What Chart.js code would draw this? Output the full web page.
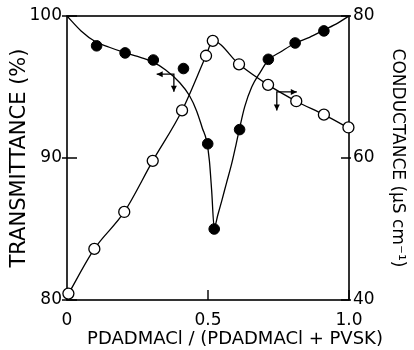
<!DOCTYPE html>
<html>
<head>
<meta charset="utf-8">
<script src="https://cdn.jsdelivr.net/npm/chart.js@4/dist/chart.umd.min.js"></script>
<style>
  html, body { margin: 0; padding: 0; background: #fff; }
  #wrap { width: 414px; height: 350px; }
</style>
</head>
<body>
<div id="wrap"><canvas id="chart" width="414" height="350"></canvas></div>
<script>
// measured points: transmittance (filled) and conductance (open)
const transX = [0.105, 0.206, 0.306, 0.413, 0.499, 0.522, 0.612, 0.714, 0.809, 0.911];
const transY = [97.9, 97.4, 96.9, 96.3, 91.0, 85.0, 92.0, 96.95, 98.1, 98.95];
const condX = [0.005, 0.097, 0.203, 0.304, 0.408, 0.493, 0.517, 0.61, 0.713, 0.813, 0.911, 0.998];
const condY = [40.9, 47.2, 52.4, 59.6, 66.7, 74.4, 76.5, 73.2, 70.3, 68.0, 66.1, 64.3];

// hand drawn fit curves
const transCurveX = [0, 0.05, 0.1, 0.15, 0.2, 0.25, 0.3, 0.35, 0.4, 0.434, 0.46, 0.48, 0.495, 0.505, 0.513, 0.522,
  0.535, 0.549, 0.565, 0.584, 0.6, 0.611, 0.63, 0.655, 0.684, 0.714, 0.76, 0.81, 0.86, 0.91, 0.96, 1.0];
const transCurveY = [100, 98.95, 98.2, 97.8, 97.45, 97.15, 96.8, 96.2, 95.3, 94.4, 93.3, 92.1, 91.2, 89.8, 87.7, 85.1,
  86.0, 87.0, 88.2, 89.6, 91.0, 92.0, 93.6, 95.0, 96.0, 96.9, 97.5, 98.1, 98.5, 99.0, 99.5, 100];
const condCurveX = [0, 0.097, 0.203, 0.304, 0.408, 0.493, 0.517, 0.61, 0.713, 0.813, 0.911, 1.0];
const condCurveY = [40.5, 47.2, 52.4, 59.6, 66.7, 74.4, 76.5, 73.2, 70.3, 68.0, 66.1, 64.2];

// ticks
const xTicks = [0, 0.5, 1.0];
const xTickLabels = ['0', '0.5', '1.0'];
const leftTicks = [80, 90, 100];
const rightTicks = [40, 60, 80];

const xTitle = 'PDADMACl / (PDADMACl + PVSK)';
const leftTitle = 'TRANSMITTANCE (%)';
const rightTitle = 'CONDUCTANCE (\u03bcS cm\u207b\u00b9)';

const toPts = (xs, ys) => xs.map((x, i) => ({ x: x, y: ys[i] }));

// arrows showing which axis a curve belongs to: [x, y] in data units
const arrows = [
  { axis: 'y', x0: 0.379, y0: 95.9, x1: 0.318, y1: 94.66 },
  { axis: 'y2', x0: 0.744, y0: 69.3, x1: 0.815, y1: 66.7 }
];

function arrowHead(ctx, x, y, dx, dy) {
  const len = 6, w = 3;
  ctx.beginPath();
  ctx.moveTo(x, y);
  ctx.lineTo(x - dx * len - dy * w, y - dy * len + dx * w);
  ctx.lineTo(x - dx * len + dy * w, y - dy * len - dx * w);
  ctx.closePath();
  ctx.fill();
}

const framePlugin = {
  id: 'frame',
  beforeDatasetsDraw(chart) {
    const { ctx, chartArea: a, scales } = chart;
    ctx.save();
    ctx.strokeStyle = '#000';
    ctx.lineWidth = 1.6;
    ctx.strokeRect(a.left, a.top, a.right - a.left, a.bottom - a.top);
    ctx.lineWidth = 1.4;
    ctx.beginPath();
    // inward tick marks
    scales.x.ticks.forEach(t => {
      const px = scales.x.getPixelForValue(t.value);
      ctx.moveTo(px, a.bottom);
      ctx.lineTo(px, a.bottom - 10);
    });
    scales.y.ticks.forEach(t => {
      const py = scales.y.getPixelForValue(t.value);
      ctx.moveTo(a.left - 5, py);
      ctx.lineTo(a.left + 10, py);
    });
    scales.y2.ticks.forEach(t => {
      const py = scales.y2.getPixelForValue(t.value);
      ctx.moveTo(a.right + 2, py);
      ctx.lineTo(a.right - 8, py);
    });
    ctx.stroke();
    ctx.restore();
  },
  afterDatasetsDraw(chart) {
    const { ctx, scales } = chart;
    ctx.save();
    ctx.strokeStyle = '#000';
    ctx.fillStyle = '#000';
    ctx.lineWidth = 1.3;
    arrows.forEach(ar => {
      const ys = scales[ar.axis];
      const x0 = scales.x.getPixelForValue(ar.x0);
      const y0 = ys.getPixelForValue(ar.y0);
      const x1 = scales.x.getPixelForValue(ar.x1);
      const y1 = ys.getPixelForValue(ar.y1);
      ctx.beginPath();
      ctx.moveTo(x1, y0);
      ctx.lineTo(x0, y0);
      ctx.lineTo(x0, y1);
      ctx.stroke();
      arrowHead(ctx, x1, y0, Math.sign(x1 - x0), 0);
      arrowHead(ctx, x0, y1, 0, 1);
    });
    // x axis title, sits right of the plot centre in the figure
    ctx.font = '18px "DejaVu Sans"';
    ctx.textAlign = 'center';
    ctx.textBaseline = 'alphabetic';
    ctx.fillText(xTitle, 235, 344);
    ctx.restore();
  }
};

const tickFont = { family: 'DejaVu Sans', size: 17 };

new Chart(document.getElementById('chart'), {
  type: 'scatter',
  data: {
    datasets: [
      {
        label: 'Transmittance',
        data: toPts(transX, transY),
        yAxisID: 'y',
        pointRadius: 5.3,
        pointBackgroundColor: '#000',
        pointBorderColor: '#000',
        pointBorderWidth: 1,
        showLine: false,
        clip: false,
        order: 1
      },
      {
        label: 'Conductance',
        data: toPts(condX, condY),
        yAxisID: 'y2',
        pointRadius: 5.5,
        pointBackgroundColor: '#fff',
        pointBorderColor: '#000',
        pointBorderWidth: 1.3,
        showLine: false,
        clip: false,
        order: 1
      },
      {
        label: 'Transmittance fit',
        data: toPts(transCurveX, transCurveY),
        yAxisID: 'y',
        showLine: true,
        pointRadius: 0,
        borderColor: '#000',
        borderWidth: 1.3,
        cubicInterpolationMode: 'monotone',
        order: 2
      },
      {
        label: 'Conductance fit',
        data: toPts(condCurveX, condCurveY),
        yAxisID: 'y2',
        showLine: true,
        pointRadius: 0,
        borderColor: '#000',
        borderWidth: 1.3,
        cubicInterpolationMode: 'monotone',
        order: 2
      }
    ]
  },
  options: {
    responsive: false,
    animation: false,
    layout: { padding: { top: 16, left: 0, right: 0, bottom: 0 } },
    plugins: { legend: { display: false }, tooltip: { enabled: false } },
    scales: {
      x: {
        type: 'linear',
        min: 0,
        max: 1,
        afterBuildTicks: s => { s.ticks = xTicks.map(v => ({ value: v })); },
        afterFit: s => { s.height = 50; },
        grid: { display: false, drawTicks: false },
        border: { display: false },
        ticks: {
          color: '#000',
          font: tickFont,
          padding: 10,
          maxRotation: 0,
          callback: v => xTickLabels[xTicks.indexOf(v)]
        }
      },
      y: {
        type: 'linear',
        position: 'left',
        min: 80,
        max: 100,
        afterBuildTicks: s => { s.ticks = leftTicks.map(v => ({ value: v })); },
        afterFit: s => { s.width = 67; },
        grid: { display: false, drawTicks: false },
        border: { display: false },
        ticks: { color: '#000', font: tickFont, padding: 5 },
        title: {
          display: true,
          text: leftTitle,
          color: '#000',
          font: { family: 'DejaVu Sans', size: 21 },
          padding: { top: 7, bottom: 0 }
        }
      },
      y2: {
        type: 'linear',
        position: 'right',
        min: 40,
        max: 80,
        afterBuildTicks: s => { s.ticks = rightTicks.map(v => ({ value: v })); },
        afterFit: s => { s.width = 65; },
        grid: { display: false, drawTicks: false },
        border: { display: false },
        ticks: { color: '#000', font: tickFont, padding: 4 },
        title: {
          display: true,
          text: rightTitle,
          color: '#000',
          font: { family: 'DejaVu Sans', size: 17 },
          padding: { top: 6, bottom: 0 }
        }
      }
    }
  },
  plugins: [framePlugin]
});
</script>
</body>
</html>
